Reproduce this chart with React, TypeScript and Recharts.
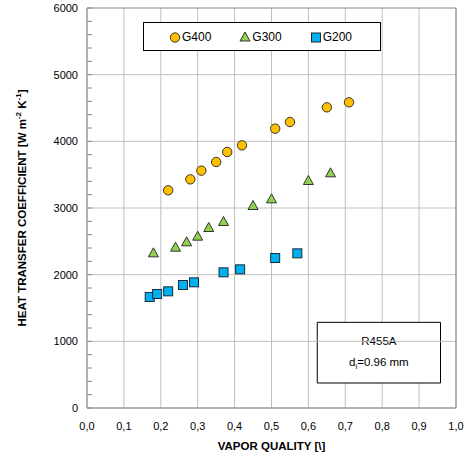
import React from 'react';
import {
  ScatterChart,
  Scatter,
  XAxis,
  YAxis,
  CartesianGrid,
  ReferenceLine,
  ReferenceArea,
  Legend,
} from 'recharts';

const g400X = [0.22, 0.28, 0.31, 0.35, 0.38, 0.42, 0.51, 0.55, 0.65, 0.71];
const g400Y = [3265, 3430, 3560, 3690, 3840, 3940, 4190, 4290, 4510, 4585];

const g300X = [0.18, 0.24, 0.27, 0.3, 0.33, 0.37, 0.45, 0.5, 0.6, 0.66];
const g300Y = [2320, 2405, 2485, 2570, 2700, 2790, 3030, 3130, 3405, 3520];

const g200X = [0.17, 0.19, 0.22, 0.26, 0.29, 0.37, 0.415, 0.51, 0.57];
const g200Y = [1665, 1710, 1750, 1845, 1885, 2035, 2080, 2250, 2320];

const seriesNames = ['G400', 'G300', 'G200'];
const xTicks = [0, 0.1, 0.2, 0.3, 0.4, 0.5, 0.6, 0.7, 0.8, 0.9, 1.0];
const yMajor = [0, 1000, 2000, 3000, 4000, 5000, 6000];
const yMinor = Array.from({ length: 31 }, (_, i) => i * 200);

const toPoints = (xs: number[], ys: number[]) => xs.map((x, i) => ({ x, y: ys[i] }));

const FONT = 'Liberation Sans, Arial, sans-serif';
const GRID = '#BFBFBF';
const BORDER = '#878787';

const colors = { G400: '#FFC000', G300: '#92D050', G200: '#00B0F0' };

const Circle = (p: any) => (
  <circle cx={p.cx} cy={p.cy} r={4.7} fill={colors.G400} stroke="#222" strokeWidth={0.9} />
);
const Triangle = (p: any) => (
  <polygon
    points={`${p.cx},${p.cy - 5.5} ${p.cx + 5},${p.cy + 3.5} ${p.cx - 5},${p.cy + 3.5}`}
    fill={colors.G300}
    stroke="#222"
    strokeWidth={0.9}
  />
);
const Square = (p: any) => (
  <rect x={p.cx - 4.5} y={p.cy - 4.5} width={9} height={9} fill={colors.G200} stroke="#1a2a33" strokeWidth={1} />
);

const icons: Record<string, (p: any) => React.ReactElement> = {
  G400: Circle,
  G300: Triangle,
  G200: Square,
};

const LegendBox = () => (
  <div
    style={{
      border: '1px solid #000',
      background: '#fff',
      boxSizing: 'border-box',
      width: 238,
      height: 29,
      display: 'flex',
      alignItems: 'center',
      paddingLeft: 25,
      fontFamily: FONT,
      fontSize: 12,
      color: '#000',
    }}
  >
    {seriesNames.map((name) => {
      const Icon = icons[name];
      return (
        <div key={name} style={{ display: 'flex', alignItems: 'center', width: 70.5 }}>
          <svg width={12} height={12} style={{ marginRight: 1 }}>
            <Icon cx={6} cy={6.5} />
          </svg>
          <span>{name}</span>
        </div>
      );
    })}
  </div>
);

const YLabel = (props: any) => {
  const vb = props.viewBox;
  const cx = vb.x + 22;
  const cy = vb.y + vb.height / 2;
  return (
    <text
      x={cx}
      y={cy}
      transform={`rotate(-90, ${cx}, ${cy})`}
      textAnchor="middle"
      dominantBaseline="central"
      fontFamily={FONT}
      fontSize={11.5}
      fontWeight="bold"
      fill="#000"
    >
      HEAT TRANSFER COEFFICIENT [W m<tspan dy={-4} fontSize={8}>-2</tspan>
      <tspan dy={4}> K</tspan>
      <tspan dy={-4} fontSize={8}>-1</tspan>
      <tspan dy={4}>]</tspan>
    </text>
  );
};

const BoxLabel = (props: any) => {
  const vb = props.viewBox;
  const cx = vb.x + vb.width / 2;
  return (
    <g fontFamily={FONT} fontSize={11.5} fill="#000">
      <text x={cx} y={vb.y + 23} textAnchor="middle">
        R455A
      </text>
      <text x={cx} y={vb.y + 44} textAnchor="middle">
        d<tspan dy={3} fontSize={8}>i</tspan>
        <tspan dy={-3}>=0.96 mm</tspan>
      </text>
    </g>
  );
};

export default function App() {
  return (
    <div style={{ position: 'absolute', left: 0, top: 0, background: '#fff' }}>
      <ScatterChart width={473} height={459} margin={{ top: 8, right: 17, bottom: 0, left: 0 }}>
        <CartesianGrid vertical horizontal={false} stroke={GRID} verticalValues={xTicks} />
        {yMajor.map((v) => (
          <ReferenceLine key={v} y={v} stroke={v === 6000 ? BORDER : GRID} strokeWidth={1} />
        ))}
        <ReferenceLine x={1} stroke={BORDER} />
        <XAxis
          type="number"
          dataKey="x"
          domain={[0, 1]}
          ticks={xTicks}
          interval={0}
          height={51}
          tickLine={false}
          axisLine={{ stroke: BORDER }}
          tickMargin={8}
          tickFormatter={(v: number) => v.toFixed(1).replace('.', ',')}
          tick={{ fontFamily: FONT, fontSize: 11, fill: '#000' }}
          label={{
            value: 'VAPOR QUALITY [\\]',
            position: 'insideBottom',
            offset: 9,
            style: { fontFamily: FONT, fontSize: 11.5, fontWeight: 'bold', fill: '#000' },
          }}
        />
        <YAxis
          type="number"
          dataKey="y"
          domain={[0, 6000]}
          ticks={yMinor}
          interval={0}
          width={87}
          tickSize={-5}
          tickMargin={14}
          tickLine={{ stroke: BORDER }}
          axisLine={{ stroke: BORDER }}
          tickFormatter={(v: number) => (v % 1000 === 0 ? String(v) : '')}
          tick={{ fontFamily: FONT, fontSize: 11, fill: '#000' }}
          label={<YLabel />}
        />
        <ReferenceArea
          x1={0.624}
          x2={0.958}
          y1={375}
          y2={1285}
          fill="#fff"
          fillOpacity={1}
          stroke="#000"
          strokeWidth={1}
          label={<BoxLabel />}
        />
        <Legend
          layout="horizontal"
          verticalAlign="middle"
          align="center"
          wrapperStyle={{ top: 22, left: 143, width: 238, height: 29 }}
          content={<LegendBox />}
        />
        <Scatter name="G400" data={toPoints(g400X, g400Y)} shape={Circle} fill={colors.G400} isAnimationActive={false} />
        <Scatter name="G300" data={toPoints(g300X, g300Y)} shape={Triangle} fill={colors.G300} isAnimationActive={false} />
        <Scatter name="G200" data={toPoints(g200X, g200Y)} shape={Square} fill={colors.G200} isAnimationActive={false} />
      </ScatterChart>
    </div>
  );
}
